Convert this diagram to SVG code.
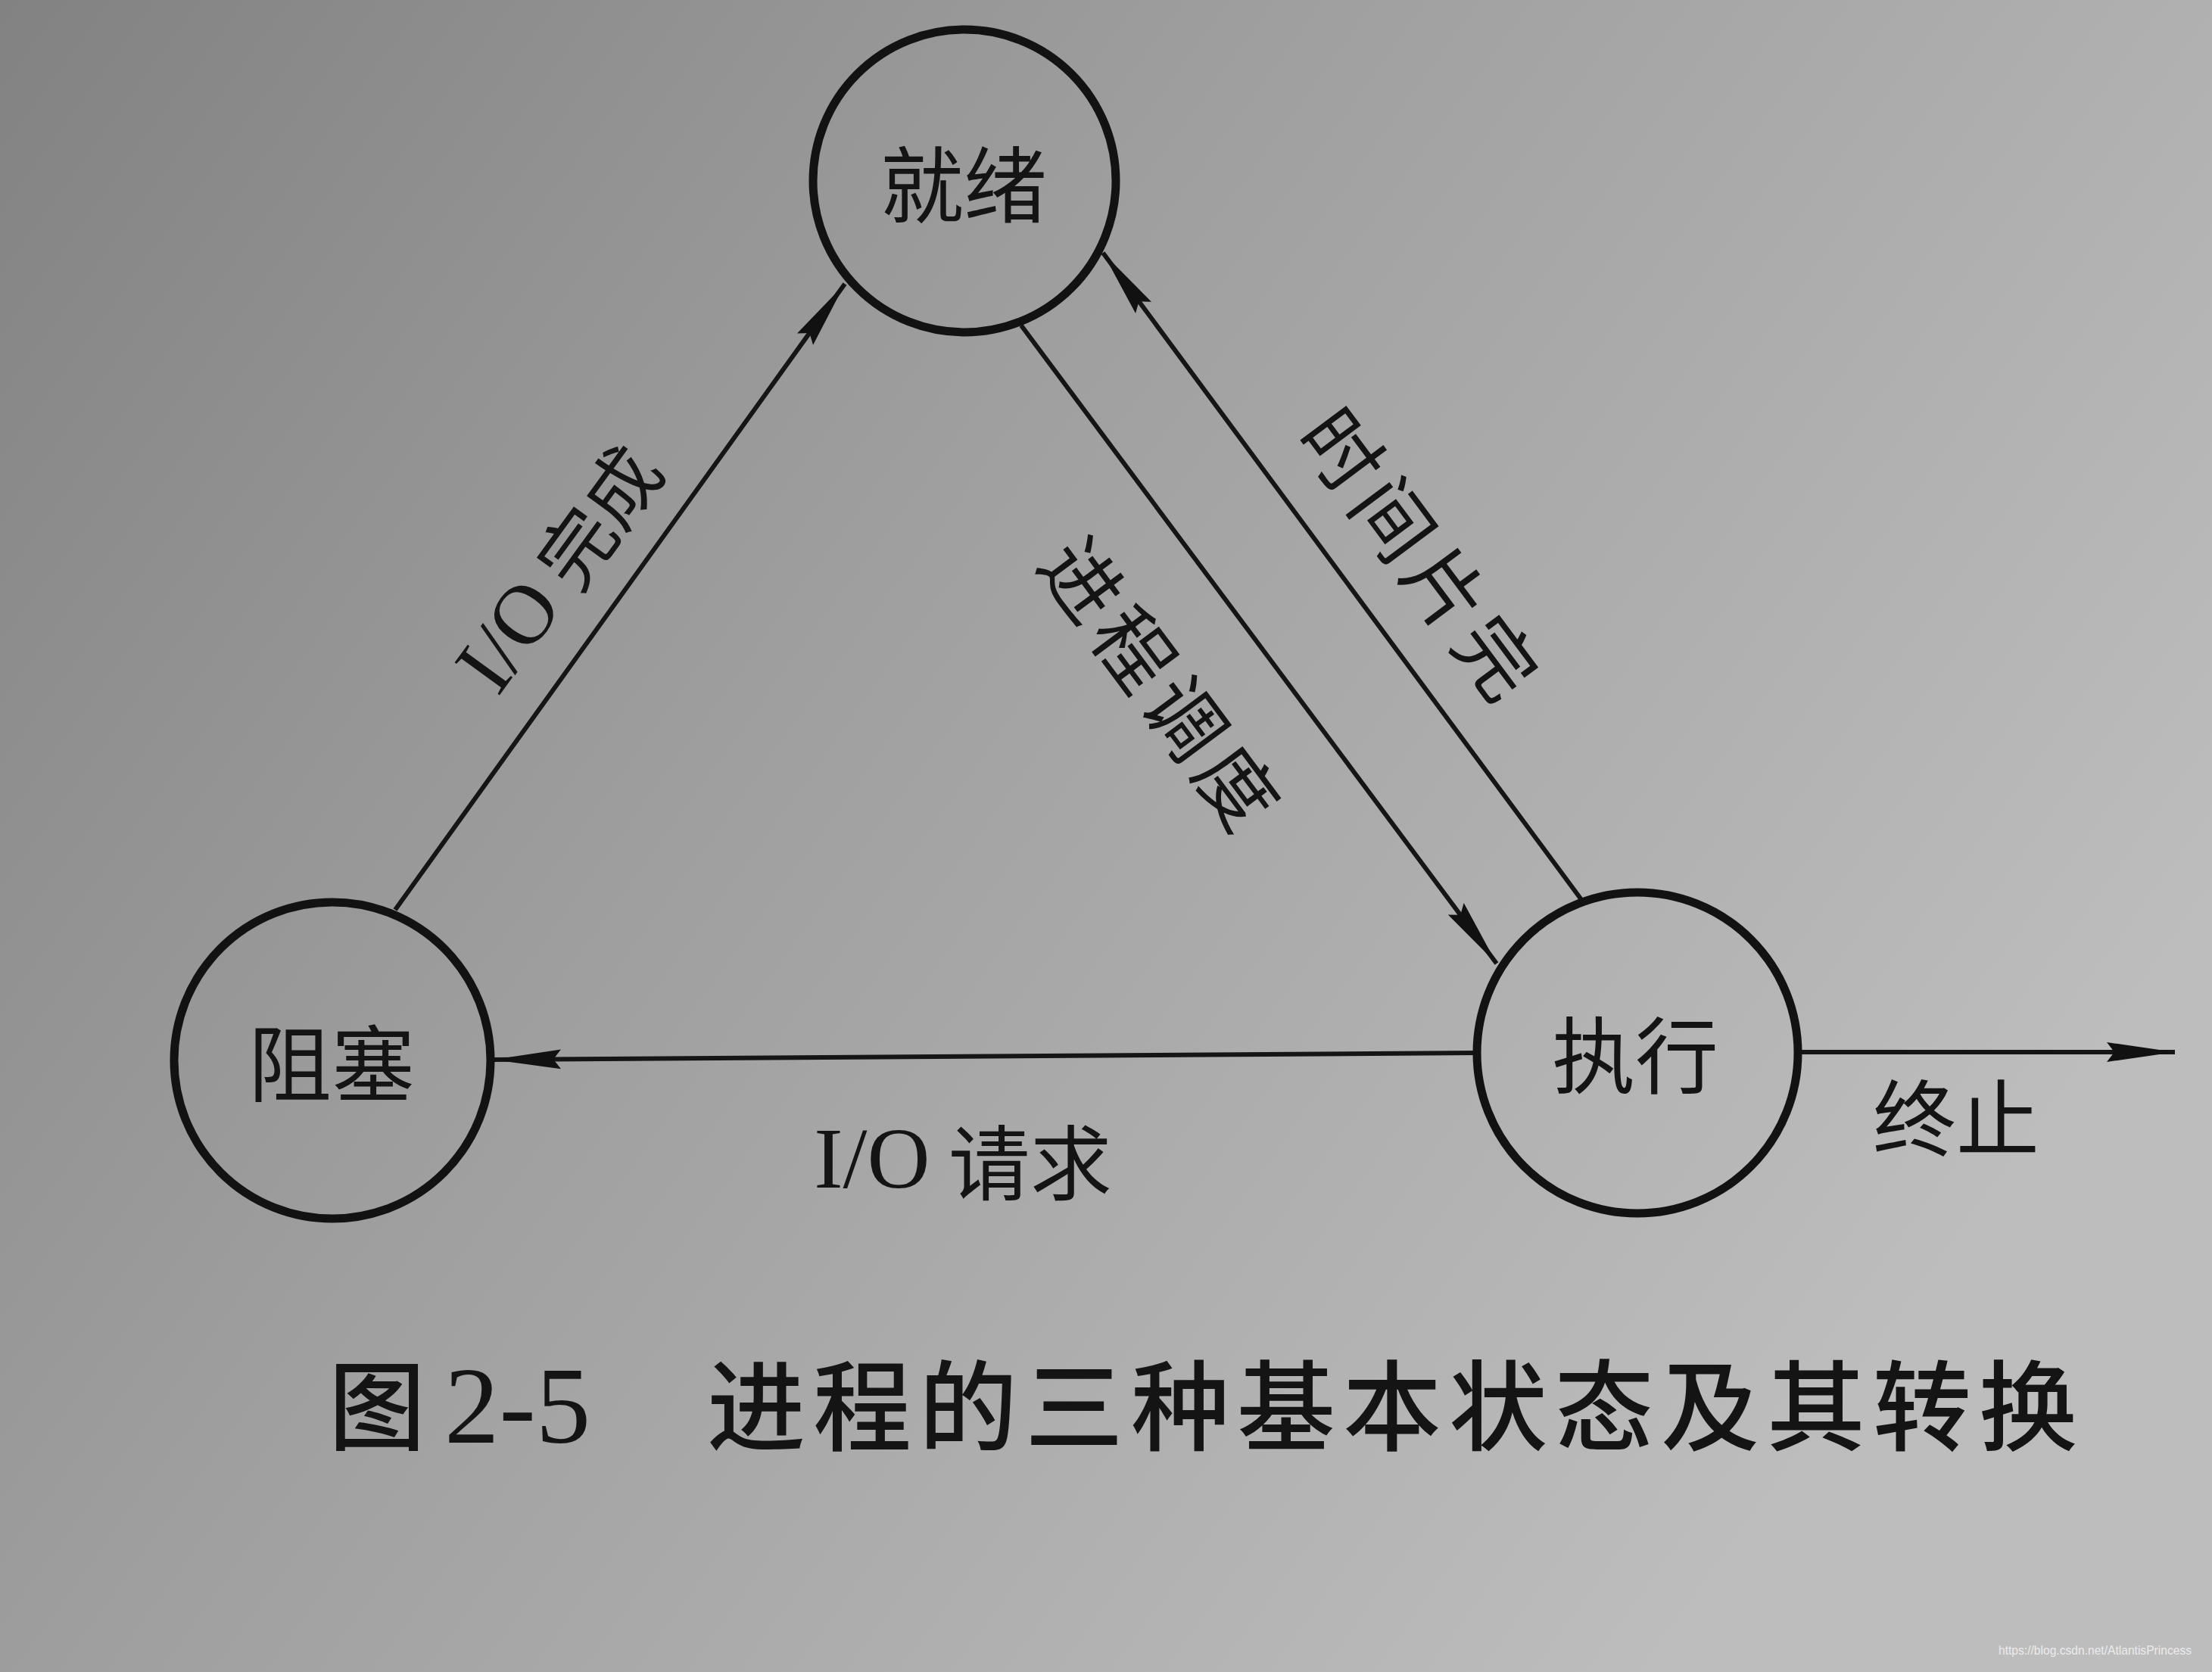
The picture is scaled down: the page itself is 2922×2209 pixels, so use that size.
<svg xmlns="http://www.w3.org/2000/svg" width="2922" height="2209" viewBox="0 0 2922 2209">
<style>
.node{fill:none;stroke:#121212;stroke-width:11}
.edge{stroke:#151515;stroke-width:6;fill:none}
.cjk{font-family:"Noto Sans CJK SC","Noto Sans",sans-serif;fill:#141414}
.lat{font-family:"Liberation Serif",serif;fill:#141414}
</style>
<defs>
<linearGradient id="bg" x1="0" y1="0" x2="1" y2="0.55">
<stop offset="0" stop-color="#828282"/>
<stop offset="0.45" stop-color="#9f9f9f"/>
<stop offset="1" stop-color="#bdbdbd"/>
</linearGradient>
<marker id="arr" markerUnits="userSpaceOnUse" markerWidth="94" markerHeight="30" refX="90" refY="14" orient="auto">
<path d="M0,1 L90,14 L0,27 L10,14 z" fill="#111"/>
</marker>
</defs>
<rect width="2922" height="2209" fill="url(#bg)"/>
<g id="connectors">
<line class="edge" x1="522" y1="1202" x2="1116" y2="375" marker-end="url(#arr)"/>
<line class="edge" x1="1349" y1="430" x2="1977" y2="1273" marker-end="url(#arr)"/>
<line class="edge" x1="2090" y1="1190" x2="1457" y2="334" marker-end="url(#arr)"/>
<line class="edge" x1="1951" y1="1391" x2="651" y2="1400" marker-end="url(#arr)"/>
<line class="edge" x1="2375" y1="1390" x2="2873" y2="1390" marker-end="url(#arr)"/>
</g>
<g id="label-io-done"><text class="cjk" x="736" y="749" font-size="100" text-anchor="middle" dominant-baseline="central" transform="rotate(-54 736 749)"><tspan class="lat" font-size="112">I/O</tspan> 完成</text></g>
<g id="label-dispatch"><text class="cjk" x="1540" y="903" font-size="104" letter-spacing="10" text-anchor="middle" dominant-baseline="central" transform="rotate(53.3 1540 903)">进程调度</text></g>
<g id="label-timeout"><text class="cjk" x="1883" y="732" font-size="104" letter-spacing="10" text-anchor="middle" dominant-baseline="central" transform="rotate(53.3 1883 732)">时间片完</text></g>
<g id="label-io-req"><text class="cjk" x="1272" y="1530" font-size="108" text-anchor="middle" dominant-baseline="central"><tspan class="lat" font-size="115">I/O</tspan> 请求</text></g>
<g id="label-exit"><text class="cjk" x="2584" y="1471" font-size="110" text-anchor="middle" dominant-baseline="central">终止</text></g>
<g id="node-ready">
<circle class="node" cx="1274" cy="239" r="200"/>
<text class="cjk" x="1273" y="238" font-size="110" text-anchor="middle" dominant-baseline="central">就绪</text>
</g>
<g id="node-blocked">
<circle class="node" cx="439" cy="1401" r="209"/>
<text class="cjk" x="438" y="1399" font-size="110" text-anchor="middle" dominant-baseline="central">阻塞</text>
</g>
<g id="node-running">
<circle class="node" cx="2163" cy="1391" r="212"/>
<text class="cjk" x="2160" y="1388" font-size="110" text-anchor="middle" dominant-baseline="central">执行</text>
</g>
<g id="caption">
<text class="cjk" x="434" y="1906" font-size="128" font-weight="500">图</text>
<text class="lat" x="587" y="1906" font-size="145">2-5</text>
<text class="cjk" x="934" y="1906" font-size="130" font-weight="500" letter-spacing="10">进程的三种基本状态及其转换</text>
</g>
<text x="2640" y="2186" font-family="Liberation Sans,sans-serif" font-size="17" fill="#ececec" textLength="255" lengthAdjust="spacingAndGlyphs">https://blog.csdn.net/AtlantisPrincess</text>
</svg>
